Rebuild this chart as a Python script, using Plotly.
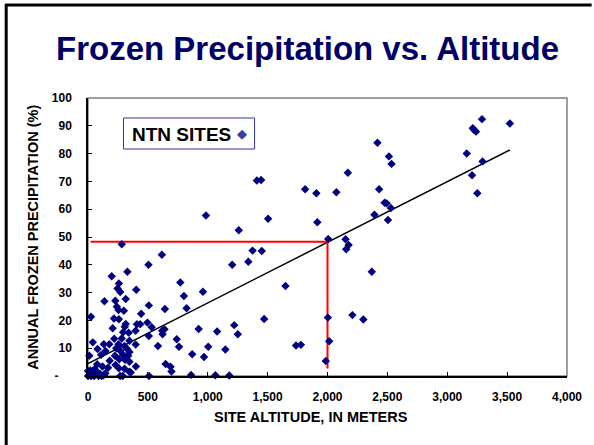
import plotly.graph_objects as go
import numpy as np

# NTN sites: altitude (m) and annual frozen precipitation (%)
altitude = [
    3290, 3523, 3213, 3226, 3240, 2417, 2513, 2535, 3163, 3295, 2170, 2074, 2431, 3207, 3251,
    2477, 2494, 2529, 2392, 2505, 2006, 2151, 2176, 2156, 2370,
    282, 985, 1259, 1410, 1446, 1504, 1813, 1907, 1915, 1374, 1451, 1649, 1471, 2003, 2208,
    2299, 1737, 1778, 2014, 1986, 1204, 1339, 771, 801, 960, 823, 924, 1221, 1078, 1251,
    741, 760, 1004, 870, 969, 1147, 689, 697, 861, 1064, 1180,
    617, 505, 329, 198, 258, 247, 269, 403, 137, 228, 315, 241, 255, 299, 508, 444, 642, 25,
    217, 258, 315, 307, 409, 436, 496, 532, 206, 293, 340, 398, 508, 620, 639, 623, 219, 282,
    346, 40, 132, 178, 255, 305, 398, 584, 80, 146, 236, 269, 327, 346, 11, 109, 225, 294,
    335, 181, 261, 310, 346, 648, 77, 121, 167, 230, 258, 305, 357, 400,
    0, 12, 25, 38, 50, 62, 75, 88, 100, 115, 130, 145, 20, 55, 0, 269, 290, 345, 510,
]
frozen_pct = [
    92.4, 90.8, 89.1, 88.5, 87.9, 83.9, 79.0, 76.3, 80.0, 77.2, 73.1, 66.1, 67.2, 72.2, 65.7,
    62.3, 62.1, 60.4, 58.0, 56.1, 49.3, 49.2, 47.1, 45.6, 37.5,
    47.4, 57.7, 52.4, 70.3, 70.5, 56.6, 67.2, 65.7, 55.3, 45.1, 45.0, 32.4, 20.5, 21.0, 21.9,
    20.3, 11.0, 11.2, 12.5, 5.4, 40.0, 41.1, 33.6, 28.8, 30.3, 24.4, 16.9, 18.3, 16.0, 15.0,
    13.2, 10.5, 10.5, 7.8, 6.8, 9.5, 3.3, 1.6, 0.4, 0.3, 0.2,
    43.6, 40.0, 37.5, 35.9, 33.3, 31.5, 30.2, 31.0, 26.9, 27.1, 27.7, 24.9, 23.7, 23.5, 25.4, 22.4, 24.1, 21.3,
    20.7, 20.4, 18.7, 17.7, 18.6, 18.6, 19.2, 17.5, 17.2, 15.7, 15.6, 16.3, 14.4, 16.3, 16.8, 15.0, 13.4, 13.5,
    12.7, 12.1, 11.4, 11.4, 11.4, 10.8, 11.3, 10.8, 9.7, 9.0, 10.0, 9.1, 9.7, 8.6, 7.3, 7.6, 7.3, 7.6,
    7.3, 5.5, 6.0, 5.8, 5.1, 4.3, 4.2, 3.4, 3.0, 4.0, 2.8, 2.6, 1.3, 3.4,
    0.0, 0.5, 0.0, 1.2, 0.0, 0.6, 1.5, 0.0, 0.8, 0.0, 0.3, 1.0, 2.0, 2.5, 1.8, 0.0, 0.0, 1.5, 0.0,
]

# linear trend (as shown on the chart)
trend_intercept = 4.5
trend_slope = 0.0218

# reference reading at 2,000 m
ref_altitude = 2000
ref_pct = 48.3
ref_start_alt = 22
ref_bottom_pct = 2.7

x_ticks = [0, 500, 1000, 1500, 2000, 2500, 3000, 3500, 4000]
y_ticks = [0, 10, 20, 30, 40, 50, 60, 70, 80, 90, 100]
y_ticktext = ["-\u00a0\u00a0\u00a0\u00a0"] + [str(v) for v in y_ticks[1:]]

FONT = "Liberation Sans, Arial, sans-serif"

fig = go.Figure()

tx = np.array([min(altitude), max(altitude)])
fig.add_trace(go.Scatter(x=tx, y=trend_intercept + trend_slope * tx, mode="lines",
                         line=dict(color="black", width=1.5), hoverinfo="skip", showlegend=False))

fig.add_trace(go.Scatter(x=[ref_start_alt, ref_altitude, ref_altitude],
                         y=[ref_pct, ref_pct, ref_bottom_pct], mode="lines",
                         line=dict(color="#ff0000", width=2), showlegend=False))

fig.add_trace(go.Scatter(x=altitude, y=frozen_pct, mode="markers", name="NTN SITES",
                         marker=dict(symbol="diamond", size=6.5, color="#000080"),
                         cliponaxis=False, showlegend=False))

W, H = 594, 445
L, R, T, B = 88, 20, 98, 69
pw, ph = W - L - R, H - T - B

def px(xp):
    return (xp - L) / pw

def py(yp):
    return (H - B - yp) / ph

fig.update_layout(
    width=W, height=H,
    margin=dict(l=L, r=R, t=T, b=B),
    paper_bgcolor="white", plot_bgcolor="white",
    font=dict(family=FONT, color="black"),
    showlegend=False,
    xaxis=dict(range=[0, 4000], tickvals=x_ticks, tickformat=",", showgrid=False, zeroline=False,
               showline=True, linecolor="black", linewidth=1.5, ticks="inside", ticklen=4,
               tickcolor="black", tickwidth=1, ticklabelstandoff=9,
               tickfont=dict(family=FONT, size=12, color="black", weight="bold")),
    yaxis=dict(range=[0, 100], tickvals=y_ticks, ticktext=y_ticktext, showgrid=False, zeroline=False,
               showline=True, linecolor="black", linewidth=1.5, ticks="inside", ticklen=4,
               tickcolor="black", tickwidth=1, ticklabelstandoff=12,
               tickfont=dict(family=FONT, size=12, color="black", weight="bold")),
    shapes=[
        dict(type="rect", xref="paper", yref="paper", x0=0, x1=1, y0=0, y1=1,
             line=dict(color="#808080", width=1.5), layer="below"),
        dict(type="line", xref="paper", yref="paper", x0=px(5), x1=px(5), y0=py(4), y1=py(H + 5),
             line=dict(color="black", width=3)),
        dict(type="line", xref="paper", yref="paper", x0=px(4), x1=px(W + 5), y0=py(5), y1=py(5),
             line=dict(color="black", width=3)),
        dict(type="rect", xref="paper", yref="paper", x0=px(124), x1=px(257), y0=py(118), y1=py(149),
             line=dict(color="#333399", width=1), fillcolor="white"),
    ],
    annotations=[
        dict(text="<b>Frozen Precipitation vs. Altitude</b>", xref="paper", yref="paper",
             x=px(311), y=py(48), xanchor="center", yanchor="middle", showarrow=False,
             font=dict(family=FONT, size=33, color="#000066")),
        dict(text="<b>ANNUAL FROZEN PRECIPITATION (%)</b>", xref="paper", yref="paper",
             x=px(32), y=py(237), xanchor="center", yanchor="middle", textangle=-90, showarrow=False,
             font=dict(family=FONT, size=14.5, color="black")),
        dict(text="<b>SITE ALTITUDE, IN METERS</b>", xref="paper", yref="paper",
             x=px(314), y=py(417), xanchor="center", yanchor="middle", showarrow=False,
             font=dict(family=FONT, size=14.5, color="black")),
        dict(text="<b>NTN SITES</b>", xref="paper", yref="paper",
             x=px(131), y=py(134), xanchor="left", yanchor="middle", showarrow=False,
             font=dict(family=FONT, size=19, color="black")),
        dict(text="\u25c6", xref="paper", yref="paper",
             x=px(244), y=py(133), xanchor="center", yanchor="middle", showarrow=False,
             font=dict(family="DejaVu Sans", size=13, color="#3c3ca0")),
    ],
)

fig.write_html("out.html", config={"displayModeBar": False},
               post_script="document.body.style.margin='0';")
